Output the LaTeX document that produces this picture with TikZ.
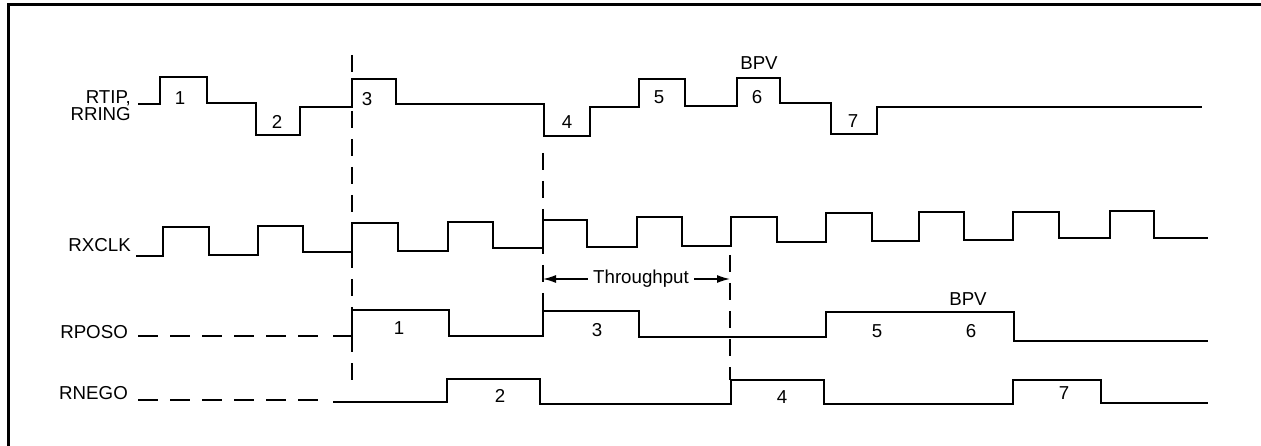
\documentclass[tikz,border=0pt]{standalone}
\usepackage{fontspec}
\setmainfont{Liberation Sans}
\usetikzlibrary{arrows.meta}
\begin{document}
\begin{tikzpicture}[x=1pt,y=-1pt,
  sig/.style={line width=2.7pt, line join=miter},
  frameline/.style={line width=3pt},
  guide/.style={line width=1.9pt, dash pattern=on 17pt off 11pt},
  lead/.style={line width=2.3pt, dash pattern=on 20pt off 12pt},
  lbl/.style={font=\fontsize{18.7}{17}\selectfont, inner sep=0pt},
  tput/.style={line width=1.5pt, -{Latex[length=13pt,width=8pt]}},
  ]
\useasboundingbox (0,0) rectangle (1261,446);
% frame
\draw[frameline] (1261,5) -- (8,5) -- (8,446);

% signal labels
\node[lbl, anchor=east, align=right] (lrtip) at (131,105.5) {RTIP,\\RRING};
\node[lbl, anchor=east] (lrxclk) at (131,245) {RXCLK};
\node[lbl, anchor=east] (lrposo) at (128,332) {RPOSO};
\node[lbl, anchor=east] (lrnego) at (128,393) {RNEGO};

% RTIP/RRING
\draw[sig] (138,104) -- (160,104) -- (160,77) -- (207,77) -- (207,103) -- (256,103) -- (256,135) -- (300,135) -- (300,107) -- (352,107) -- (352,79) -- (396,79) -- (396,104) -- (544,104) -- (544,136) -- (590,136) -- (590,107) -- (639,107) -- (639,79) -- (685,79) -- (685,106) -- (737,106) -- (737,78) -- (780,78) -- (780,103) -- (831,103) -- (831,134) -- (877,134) -- (877,107) -- (1202,107);
\node[lbl] (t1) at (180,98) {1};
\node[lbl] (t2) at (277,122) {2};
\node[lbl] (t3) at (367,99) {3};
\node[lbl] (t4) at (567,122) {4};
\node[lbl] (t5) at (659,97) {5};
\node[lbl] (t6) at (757,97) {6};
\node[lbl] (tb) at (759,63) {BPV};
\node[lbl] (t7) at (853,121) {7};

% RXCLK
\draw[sig] (136,256) -- (163,256) -- (163,227) -- (209,227) -- (209,255) -- (258,255) -- (258,226) -- (303,226) -- (303,252) -- (352,252) -- (352,223) -- (398,223) -- (398,251) -- (448,251) -- (448,222) -- (493,222) -- (493,248) -- (543,248) -- (543,220) -- (587,220) -- (587,247) -- (637,247) -- (637,217) -- (682,217) -- (682,246) -- (731,246) -- (731,217) -- (777,217) -- (777,242) -- (826,242) -- (826,213) -- (872,213) -- (872,241) -- (919,241) -- (919,212) -- (964,212) -- (964,240) -- (1013,240) -- (1013,212) -- (1059,212) -- (1059,238) -- (1110,238) -- (1110,211) -- (1154,211) -- (1154,238) -- (1208,238);

% RPOSO
\draw[lead] (138,336) -- (320,336);
\draw[sig] (333,336) -- (352,336) -- (352,310) -- (449,310) -- (449,336) -- (543,336) -- (543,311) -- (639,311) -- (639,337) -- (826,337) -- (826,312) -- (1014,312) -- (1014,341) -- (1208,341);
\node[lbl] (p1) at (399,328) {1};
\node[lbl] (p3) at (597,330) {3};
\node[lbl] (p5) at (877,331) {5};
\node[lbl] (p6) at (971,331) {6};
\node[lbl] (pb) at (968,299) {BPV};

% RNEGO
\draw[lead] (138,400) -- (320,400);
\draw[sig] (333,402) -- (447,402) -- (447,379) -- (540,379) -- (540,404) -- (731,404) -- (731,380) -- (824,380) -- (824,404) -- (1013,404) -- (1013,380) -- (1101,380) -- (1101,403) -- (1208,403);
\node[lbl] (n2) at (500,396) {2};
\node[lbl] (n4) at (782,397) {4};
\node[lbl] (n7) at (1064,393) {7};

% guide lines
\coordinate (g1a) at (352,55);  \coordinate (g1b) at (352,390);
\coordinate (g2a) at (543,153); \coordinate (g2b) at (543,311);
\coordinate (g3a) at (730,255); \coordinate (g3b) at (730,380);
\draw[guide] (g1a) -- (g1b);
\draw[guide] (g2a) -- (g2b);
\draw[guide] (g3a) -- (g3b);

% throughput
\node[lbl, inner xsep=5pt] (tp) at (641,279) {Throughput};
\coordinate (tpl) at (543,279);
\coordinate (tpr) at (730,279);
\draw[tput] (tp.west) -- (tpl);
\draw[tput] (tp.east) -- (tpr);
\end{tikzpicture}
\end{document}
